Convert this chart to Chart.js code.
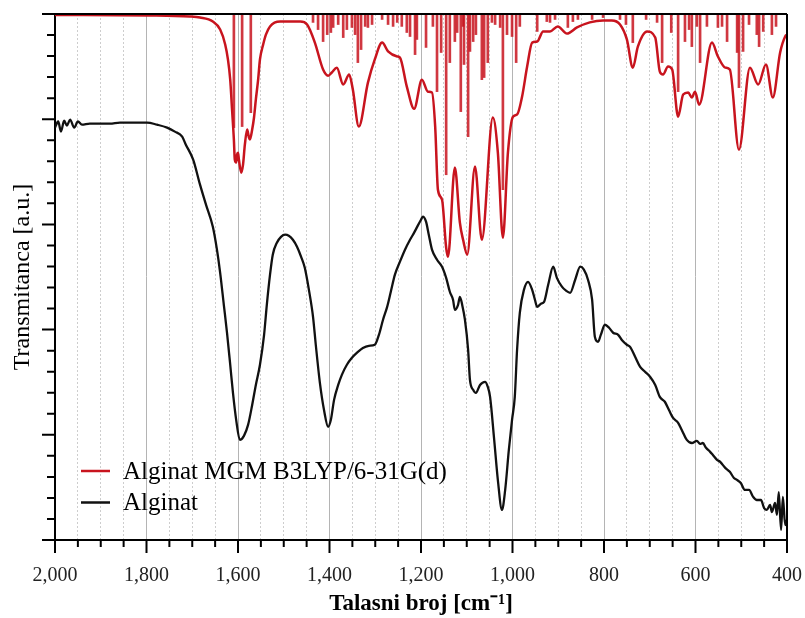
<!DOCTYPE html>
<html>
<head>
<meta charset="utf-8">
<script src="https://cdn.jsdelivr.net/npm/chart.js@4.4.1/dist/chart.umd.min.js"></script>
<style>
html,body{margin:0;padding:0;background:#fff;}
#wrap{width:805px;height:618px;}
</style>
</head>
<body>
<div id="wrap"><canvas id="c" width="805" height="618"></canvas></div>
<script>
// ---- Experimental spectrum (Alginat) ----
const expWavenumbers = [2000,1993,1987,1980,1974,1967,1958,1950,1941,1924,1902,1880,1858,1836,1814,1799,1777,1755,1738,1722,1714,1698,1683,1670,1655,1646,1639,1631,1624,1617,1611,1604,1596,1587,1578,1569,1561,1552,1543,1537,1530,1524,1515,1506,1497,1489,1480,1471,1462,1454,1445,1436,1430,1421,1412,1403,1397,1390,1381,1373,1362,1351,1338,1327,1314,1301,1292,1283,1274,1266,1257,1246,1235,1224,1215,1207,1200,1196,1189,1183,1176,1165,1154,1145,1137,1130,1126,1119,1115,1110,1104,1097,1093,1086,1080,1071,1060,1054,1049,1040,1032,1023,1016,1008,1001,995,990,984,975,966,957,951,946,938,931,922,911,903,892,883,874,863,852,844,835,826,820,813,807,798,789,780,769,761,750,743,732,721,710,699,688,678,667,658,649,638,630,619,608,597,590,584,577,568,562,553,546,535,525,516,509,501,492,483,474,466,457,450,444,437,433,426,422,418,413,409,404,400];
const expTransmittance = [19.60,19.89,19.41,19.93,19.70,19.98,19.60,19.89,19.74,19.79,19.79,19.79,19.84,19.84,19.84,19.84,19.74,19.60,19.41,19.17,18.79,18.08,16.89,15.94,14.89,13.80,12.70,11.18,9.85,8.33,6.99,5.71,4.76,4.95,5.47,6.42,7.37,8.33,9.75,11.18,12.61,13.56,14.13,14.41,14.51,14.46,14.27,13.94,13.46,12.94,11.89,10.61,9.28,7.47,6.18,5.38,5.71,6.66,7.37,7.85,8.33,8.66,8.94,9.13,9.23,9.28,9.75,10.47,11.08,11.80,12.61,13.23,13.80,14.27,14.61,14.94,15.22,15.37,15.13,14.51,13.80,13.32,12.99,12.46,11.80,11.42,10.94,11.18,11.56,11.18,10.47,9.04,7.61,7.14,6.99,7.37,7.52,7.28,6.80,4.76,2.85,1.43,2.38,4.28,5.71,6.80,9.04,10.80,11.89,12.27,11.89,11.42,11.08,11.23,11.32,12.13,12.99,12.46,12.04,11.85,11.75,12.37,12.99,12.85,12.37,11.42,9.66,9.42,9.75,10.23,10.09,9.85,9.75,9.51,9.28,9.18,8.71,8.23,7.99,7.75,7.37,6.80,6.57,6.18,5.80,5.57,5.23,4.76,4.61,4.71,4.57,4.61,4.38,4.19,4.04,3.81,3.71,3.43,3.24,2.95,2.85,2.71,2.38,2.38,2.05,1.90,1.90,1.52,1.43,1.67,1.33,1.76,1.19,2.28,0.48,2.05,0.71,0.95];

// ---- Calculated spectrum (broadened curve) ----
const calcWavenumbers = [2000,1792,1705,1683,1655,1639,1628,1622,1617,1613,1609,1607,1604,1602,1600,1598,1593,1589,1585,1580,1576,1574,1569,1565,1561,1556,1552,1545,1539,1530,1508,1464,1449,1432,1414,1403,1395,1384,1370,1357,1349,1336,1316,1301,1285,1272,1252,1246,1231,1215,1198,1185,1176,1169,1163,1154,1145,1141,1126,1115,1108,1099,1082,1067,1043,1032,1021,1010,999,990,979,968,957,946,933,918,901,881,859,831,802,783,765,750,737,726,706,688,678,671,660,651,638,627,616,608,601,592,564,551,535,525,505,481,463,446,431,415,404,400];
const calcTransmittance = [24.95,24.93,24.88,24.83,24.64,24.26,23.55,22.84,21.88,20.46,19.03,18.08,17.94,18.32,18.41,18.08,17.46,17.84,18.79,19.51,19.12,19.03,19.51,20.08,20.93,21.88,22.84,23.55,24.02,24.41,24.64,24.64,24.50,23.64,22.36,22.07,22.22,22.45,21.65,22.12,21.41,19.65,21.74,22.84,23.64,23.22,22.98,22.93,21.55,20.50,21.88,21.31,21.27,19.65,16.65,16.17,13.89,13.46,17.70,15.08,14.27,13.56,17.75,14.27,20.08,18.41,14.37,18.41,20.12,20.22,21.08,22.50,23.64,23.69,24.17,24.17,24.41,24.07,24.36,24.60,24.69,24.69,24.50,23.79,22.45,23.45,24.17,23.88,22.26,22.12,22.50,22.36,20.12,21.17,21.27,21.03,21.31,20.69,23.64,22.98,22.45,22.36,18.55,22.45,21.65,22.60,21.03,23.17,23.93,24.02];

// ---- Calculated stick spectrum (line positions and depths) ----
const stickWavenumbers = [1609,1591,1572,1436,1425,1414,1405,1397,1392,1381,1370,1362,1351,1344,1338,1331,1322,1316,1307,1285,1272,1261,1252,1242,1231,1224,1213,1209,1189,1174,1165,1156,1145,1137,1126,1121,1113,1108,1106,1097,1093,1086,1080,1067,1062,1054,1045,1038,1027,1021,1012,1001,992,984,946,925,918,907,879,868,857,826,802,765,752,737,708,684,673,653,638,623,614,608,597,590,575,551,542,531,509,505,496,483,466,461,452,433,424];
const stickDepths = [19.60,19.65,20.31,24.60,24.26,23.69,24.02,24.12,24.36,24.50,23.88,24.26,24.36,24.02,22.69,23.31,24.41,24.36,24.50,24.74,24.50,24.41,24.60,24.41,24.12,23.93,23.07,23.79,23.41,24.41,21.31,23.17,17.36,22.69,23.69,24.12,20.36,24.41,22.60,19.17,23.22,23.69,24.02,21.88,21.98,22.69,24.60,24.50,24.36,16.65,24.02,23.93,22.69,24.41,24.17,24.64,24.60,24.74,24.36,24.64,24.74,24.74,24.83,24.74,24.50,23.64,24.74,24.60,22.69,24.12,21.31,23.69,24.26,23.45,24.41,22.69,24.41,24.36,24.41,23.69,23.17,21.50,23.22,24.50,24.02,23.45,24.17,24.02,24.41];
const stickBaseline = 25;

// ---- Axis ticks / labels ----
const xMajorTicks = [2000,1800,1600,1400,1200,1000,800,600,400];
const xTickLabels = ['2,000','1,800','1,600','1,400','1,200','1,000','800','600','400'];
const xMinorStep = 50;
const yMin = 0, yMax = 25, yMajorEvery = 5;
const seriesNames = ['Alginat MGM B3LYP/6-31G(d)', 'Alginat'];
const xTitle = 'Talasni broj [cm\u207B\u00B9]';
const yTitle = 'Transmitanca [a.u.]';

const RED = '#c8141e';
const FONT = "'Liberation Serif', 'Times New Roman', serif";

const isMajor = v => xMajorTicks.indexOf(Math.round(v)) >= 0;

const framePlugin = {
  id: 'frame',
  afterDatasetsDraw(chart) {
    const {ctx, chartArea: a, scales: {x, y}} = chart;
    ctx.save();
    ctx.strokeStyle = '#000';
    ctx.lineWidth = 2;
    ctx.beginPath();
    ctx.moveTo(a.left, a.top); ctx.lineTo(a.right, a.top);
    ctx.moveTo(a.right, a.top); ctx.lineTo(a.right, a.bottom);
    for (let v = yMin; v <= yMax; v++) {
      const py = y.getPixelForValue(v);
      const len = (v % yMajorEvery === 0) ? 13 : 8;
      ctx.moveTo(a.left - len, py); ctx.lineTo(a.left, py);
    }
    for (let v = x.min; v <= x.max; v += xMinorStep) {
      const px = x.getPixelForValue(v);
      const len = isMajor(v) ? 13 : 7;
      ctx.moveTo(px, a.bottom); ctx.lineTo(px, a.bottom + len);
    }
    ctx.stroke();

    // legend inside plot
    const entries = chart.data.datasets.filter(d => d.inLegend);
    ctx.font = '25px ' + FONT;
    ctx.textBaseline = 'middle';
    ctx.textAlign = 'left';
    entries.forEach((d, i) => {
      const ly = a.top + 457 + i * 31.5;
      ctx.strokeStyle = d.borderColor;
      ctx.lineWidth = 2.5;
      ctx.beginPath();
      ctx.moveTo(a.left + 26, ly); ctx.lineTo(a.left + 55, ly);
      ctx.stroke();
      ctx.fillStyle = '#000';
      ctx.fillText(d.label, a.left + 68, ly + 1);
    });
    ctx.restore();
  }
};

new Chart(document.getElementById('c'), {
  type: 'line',
  data: {
    datasets: [
      {
        label: seriesNames[0], inLegend: true,
        data: calcWavenumbers.map((w, i) => ({x: w, y: calcTransmittance[i]})),
        borderColor: RED, borderWidth: 2.5, pointRadius: 0, fill: false,
        cubicInterpolationMode: 'monotone'
      },
      {
        label: seriesNames[1], inLegend: true,
        data: expWavenumbers.map((w, i) => ({x: w, y: expTransmittance[i]})),
        borderColor: '#111', borderWidth: 2.3, pointRadius: 0, fill: false,
        cubicInterpolationMode: 'monotone'
      },
      {
        type: 'bar', label: 'sticks', inLegend: false,
        data: stickWavenumbers.map((w, i) => ({x: w, y: [stickDepths[i], stickBaseline]})),
        backgroundColor: 'rgba(200,20,30,0.85)', borderWidth: 0, barThickness: 2
      }
    ]
  },
  options: {
    responsive: false,
    animation: false,
    devicePixelRatio: 1,
    layout: {padding: {top: 14, right: 18, left: 0, bottom: 0}},
    plugins: {legend: {display: false}, tooltip: {enabled: false}},
    scales: {
      x: {
        type: 'linear', reverse: true, min: 400, max: 2000, offset: false,
        afterFit: s => { s.height = 78; },
        ticks: {
          stepSize: xMinorStep, autoSkip: false, maxRotation: 0, minRotation: 0,
          padding: 1, color: '#222', font: {family: FONT, size: 20},
          callback: v => { const k = xMajorTicks.indexOf(Math.round(v)); return k >= 0 ? xTickLabels[k] : ''; }
        },
        grid: {
          offset: false, drawTicks: true, tickLength: 23, tickColor: 'rgba(0,0,0,0)', lineWidth: 1,
          color: c => (c.tick && isMajor(c.tick.value)) ? '#b4b4b4' : '#cdcdcd'
        },
        border: {
          display: true, color: '#000', width: 2,
          dash: c => (c.tick && !isMajor(c.tick.value)) ? [2, 2] : []
        },
        title: {display: true, text: xTitle, color: '#000', font: {family: FONT, size: 23, weight: 'bold'}, padding: {top: 0, bottom: 0}}
      },
      y: {
        min: yMin, max: yMax,
        afterFit: s => { s.width = 55; },
        ticks: {display: false, stepSize: 1},
        grid: {display: false, drawTicks: false},
        border: {display: true, color: '#000', width: 2},
        title: {display: true, text: yTitle, color: '#000', font: {family: FONT, size: 24}, padding: {top: 8, bottom: 0}}
      }
    }
  },
  plugins: [framePlugin]
});
</script>
</body>
</html>
